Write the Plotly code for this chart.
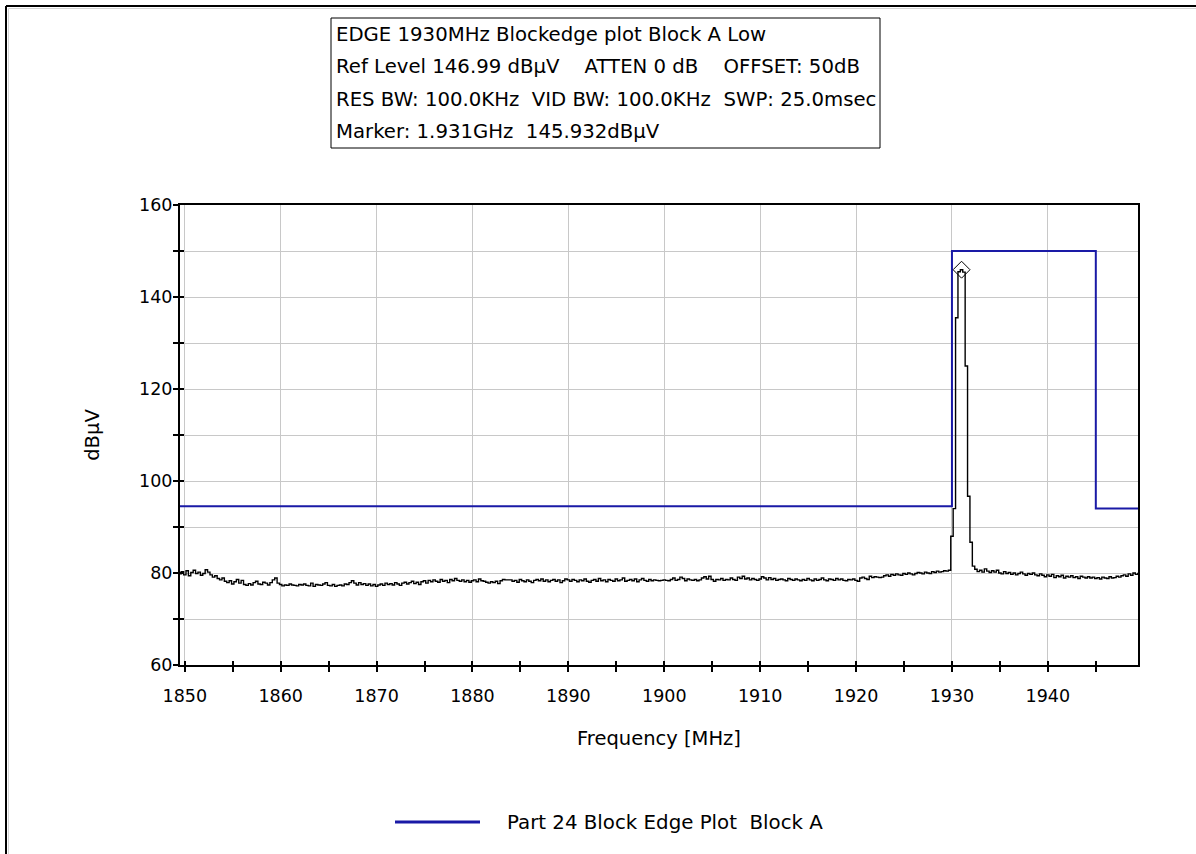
import numpy as np
import plotly.graph_objects as go

# ---- sweep data -------------------------------------------------------------
sweep_start_mhz = 1849.5
sweep_step_mhz = 0.25

# measured level, one row per 5 MHz of sweep (20 points per row)
trace_dbuv = [
    79.8, 80.3, 79.6, 80.5, 79.4, 80.1, 80.6, 79.9, 80.2, 79.5, 79.9, 80.7, 80.2, 79.6, 79.1, 79.4, 78.8, 78.5, 78.9, 78.2,
    77.9, 78.3, 77.6, 78.1, 78.6, 77.8, 78.4, 77.5, 77.3, 77.7, 77.4, 77.9, 78.2, 77.6, 77.5, 78.0, 77.8, 77.4, 77.9, 78.5,
    78.9, 77.8, 77.5, 77.2, 77.4, 77.3, 77.6, 77.4, 77.3, 77.2, 77.5, 77.4, 77.6, 77.3, 77.2, 77.8, 77.1, 77.5, 77.4, 77.3,
    77.6, 77.9, 77.3, 77.2, 77.5, 77.1, 77.3, 77.4, 77.2, 77.6, 77.5, 77.9, 78.3, 77.8, 77.4, 77.9, 77.5, 77.7, 77.3, 77.6,
    77.2, 77.5, 77.1, 77.4, 77.6, 77.3, 77.8, 77.5, 77.7, 77.4, 77.9, 77.6, 77.3, 77.8, 78.0, 77.6, 77.9, 78.2, 77.7, 78.0,
    77.5, 78.1, 78.3, 77.8, 78.4, 78.1, 78.5, 78.2, 78.0, 78.6, 78.2, 78.4, 77.9, 78.6, 78.3, 78.8, 78.4, 78.2, 78.5, 78.1,
    78.4, 78.0, 78.3, 78.5, 78.1, 78.7, 78.3, 78.2, 78.0, 77.8, 78.1, 77.9, 78.2, 77.7, 78.3, 78.6, 78.5, 78.5, 78.5, 78.2,
    78.4, 78.0, 78.6, 78.3, 78.1, 78.5, 78.2, 77.9, 78.4, 78.6, 78.3, 78.7, 78.2, 78.5, 78.1, 78.4, 78.6, 78.2, 78.5, 77.9,
    78.3, 78.7, 78.5, 78.2, 78.6, 78.4, 78.1, 78.5, 78.3, 78.7, 78.2, 78.0, 78.4, 78.6, 78.2, 78.8, 78.3, 78.5, 78.1, 78.6,
    78.4, 78.2, 78.7, 78.3, 78.5, 78.9, 78.2, 78.4, 78.6, 78.3, 78.7, 78.1, 78.5, 78.8, 78.4, 78.2, 78.6, 78.3, 78.5, 78.4,
    78.3, 78.4, 78.5, 78.4, 78.3, 78.6, 78.9, 78.4, 78.6, 79.1, 78.8, 78.3, 78.7, 78.5, 78.4, 78.6, 78.3, 78.5, 78.9, 79.2,
    78.7, 79.3, 78.6, 78.2, 78.6, 78.5, 78.8, 78.4, 78.6, 78.5, 78.9, 78.6, 78.4, 79.1, 78.8, 79.3, 78.7, 78.9, 78.5, 78.8,
    78.6, 78.4, 78.7, 79.2, 78.9, 78.5, 79.0, 78.6, 78.8, 78.4, 78.6, 78.7, 78.5, 78.3, 78.8, 78.6, 78.4, 78.7, 78.5, 78.3,
    78.6, 78.4, 78.8, 78.5, 78.3, 78.7, 78.4, 78.6, 78.9, 78.5, 78.3, 78.7, 78.6, 78.4, 78.8, 78.5, 78.7, 78.4, 78.3, 78.6,
    78.5, 78.7, 78.4, 78.2, 78.9, 79.1, 78.8, 78.6, 79.3, 79.0, 79.2, 79.1, 79.0, 79.1, 79.4, 79.6, 79.3, 79.7, 79.5, 79.8,
    79.6, 79.5, 79.9, 79.7, 80.0, 79.8, 79.6, 79.9, 80.1, 80.0, 79.8, 80.2, 80.0, 79.9, 80.3, 80.1, 80.4, 80.2, 80.3, 80.5,
    80.4, 80.6, 88.0, 94.0, 135.5, 145.5, 145.932, 145.4, 125.0, 96.7, 86.7, 81.5, 80.8, 80.3, 80.6, 80.2, 80.9, 80.4, 80.1, 80.5,
    80.2, 80.6, 80.0, 79.8, 80.3, 79.9, 80.1, 79.7, 80.0, 79.6, 79.9, 80.2, 79.8, 79.5, 79.9, 79.7, 80.0, 79.6, 79.4, 79.8,
    79.5, 79.2, 79.6, 79.3, 79.7, 79.0, 79.4, 79.2, 79.5, 78.9, 79.3, 79.1, 79.4, 79.0, 79.2, 78.8, 79.3, 79.1, 78.9, 79.2,
    78.9, 79.1, 78.8, 79.0, 78.7, 79.1, 78.9, 78.8, 79.2, 78.9, 79.0, 79.3, 79.1, 79.4, 79.6, 79.3, 79.8, 79.5, 80.0, 79.7,
    79.9,
]
trace_mhz = sweep_start_mhz + sweep_step_mhz * np.arange(len(trace_dbuv))

# Part 24 block edge limit, Block A
limit_mhz = [1849.5, 1930.0, 1930.0, 1945.0, 1945.0, 1949.5]
limit_dbuv = [94.5, 94.5, 150.0, 150.0, 94.0, 94.0]
limit_name = "Part 24 Block Edge Plot\u00a0\u00a0Block A"

# marker
marker_mhz = 1931.0
marker_dbuv = 145.932

# axes
x_range = [1849.5, 1949.4]
y_range = [60, 160]
x_major = list(range(1850, 1941, 10))
x_minor = list(range(1855, 1946, 10))
y_major = [60, 80, 100, 120, 140, 160]
y_minor = [70, 90, 110, 130, 150]

header_lines = [
    "EDGE 1930MHz Blockedge plot Block A Low",
    "Ref Level 146.99 dB\u00b5V\u00a0\u00a0\u00a0\u00a0ATTEN 0 dB\u00a0\u00a0\u00a0\u00a0OFFSET: 50dB",
    "RES BW: 100.0KHz\u00a0\u00a0VID BW: 100.0KHz\u00a0\u00a0SWP: 25.0msec",
    f"Marker: {marker_mhz / 1000:.3f}GHz\u00a0\u00a0{marker_dbuv:.3f}dB\u00b5V",
]

FONT = "DejaVu Sans, Verdana, sans-serif"
BLUE = "#1a1aa6"
GRID = "#c8c8c8"

# ---- page geometry (pixels) -------------------------------------------------
W, H = 1196, 854
PL, PR, PT, PB = 180, 1138, 205, 665
pw, ph = PR - PL, PB - PT


def px(x):
    return (x - PL) / pw


def py(y):
    return (PB - y) / ph


fig = go.Figure()

fig.add_trace(go.Scatter(
    x=limit_mhz, y=limit_dbuv, mode="lines", name=limit_name,
    line=dict(color=BLUE, width=2), showlegend=False,
))
fig.add_trace(go.Scatter(
    x=trace_mhz, y=trace_dbuv, mode="lines", name="Trace",
    line=dict(color="black", width=1.4, shape="hvh"), showlegend=False,
))
fig.add_trace(go.Scatter(
    x=[marker_mhz], y=[marker_dbuv], mode="markers", name="Marker",
    marker=dict(symbol="diamond-open", size=13, color="black", line=dict(width=1)),
    showlegend=False,
))

tick_font = dict(family=FONT, size=17.5, color="black")
title_font = dict(family=FONT, size=19.5, color="black")

fig.update_layout(
    width=W, height=H,
    margin=dict(l=PL, r=W - PR, t=PT, b=H - PB, pad=0),
    paper_bgcolor="white", plot_bgcolor="white",
    font=dict(family=FONT, size=17, color="black"),
    showlegend=False,
    xaxis=dict(
        range=x_range, tickmode="array", tickvals=x_major,
        ticks="outside", ticklen=5, tickwidth=1.5, tickcolor="black",
        ticklabelstandoff=9,
        showgrid=True, gridcolor=GRID, gridwidth=1,
        showline=True, linecolor="black", linewidth=2, mirror=True,
        zeroline=False, tickfont=tick_font,
        minor=dict(tickmode="array", tickvals=x_minor, ticks="outside",
                   ticklen=5, tickwidth=1.5, tickcolor="black", showgrid=False),
        title=dict(text="Frequency [MHz]", font=title_font, standoff=26),
    ),
    yaxis=dict(
        range=y_range, tickmode="array", tickvals=y_major,
        ticks="outside", ticklen=5, tickwidth=1.5, tickcolor="black",
        ticklabelstandoff=-3,
        showgrid=True, gridcolor=GRID, gridwidth=1,
        showline=True, linecolor="black", linewidth=2, mirror=True,
        zeroline=False, tickfont=tick_font,
        minor=dict(tickmode="array", tickvals=y_minor, ticks="outside",
                   ticklen=5, tickwidth=1.5, tickcolor="black",
                   showgrid=True, gridcolor=GRID, gridwidth=1),
        title=dict(text="dB\u00b5V", font=title_font, standoff=34),
    ),
    # duplicate axes carrying the inner half of each tick mark
    xaxis2=dict(
        overlaying="x", matches="x", range=x_range, side="bottom", anchor="y",
        tickmode="array", tickvals=x_major + x_minor, ticks="inside",
        ticklen=4, tickwidth=1.5, tickcolor="black", showticklabels=False,
        showgrid=False, zeroline=False, showline=False,
    ),
    yaxis2=dict(
        overlaying="y", matches="y", range=y_range, side="left", anchor="x",
        tickmode="array", tickvals=y_major + y_minor, ticks="inside",
        ticklen=4, tickwidth=1.5, tickcolor="black", showticklabels=False,
        showgrid=False, zeroline=False, showline=False,
    ),
)

# invisible trace so the duplicate axes are drawn
fig.add_trace(go.Scatter(x=[x_range[0]], y=[y_range[0]], xaxis="x2", yaxis="y2",
                         mode="markers", marker=dict(opacity=0), showlegend=False,
                         hoverinfo="skip"))

# header block: framed box with one text row per line
box_l, box_r, box_t, box_b = 331, 880, 18, 148
fig.add_shape(type="rect", xref="paper", yref="paper",
              x0=px(box_l), x1=px(box_r), y0=py(box_b), y1=py(box_t),
              line=dict(color="black", width=1), fillcolor="white")
row_h = (box_b - box_t) / len(header_lines)
for i, line in enumerate(header_lines):
    fig.add_annotation(
        xref="paper", yref="paper", x=px(box_l + 3), y=py(box_t + row_h * (i + 0.5)),
        xanchor="left", yanchor="middle", text=line, showarrow=False,
        font=dict(family=FONT, size=19.7, color="black"),
    )

# legend row for the limit line
leg_y = 822
fig.add_shape(type="line", xref="paper", yref="paper",
              x0=px(395), x1=px(480), y0=py(leg_y), y1=py(leg_y),
              line=dict(color=BLUE, width=3))
fig.add_annotation(
    xref="paper", yref="paper", x=px(505), y=py(leg_y), xanchor="left", yanchor="middle",
    text=limit_name, showarrow=False, font=dict(family=FONT, size=19.8, color="black"),
)

# outer window frame (top and left edges, with a soft inner bevel)
fig.add_shape(type="line", xref="paper", yref="paper", x0=px(8.5), y0=py(8.5), x1=px(W), y1=py(8.5),
              line=dict(color="#d4d4d4", width=1))
fig.add_shape(type="line", xref="paper", yref="paper", x0=px(8.5), y0=py(8.5), x1=px(8.5), y1=py(H),
              line=dict(color="#d4d4d4", width=1))
fig.add_shape(type="line", xref="paper", yref="paper", x0=px(6), y0=py(6), x1=px(W), y1=py(6),
              line=dict(color="black", width=2))
fig.add_shape(type="line", xref="paper", yref="paper", x0=px(6), y0=py(6), x1=px(6), y1=py(H),
              line=dict(color="black", width=2))

fig.write_html("out.html")
